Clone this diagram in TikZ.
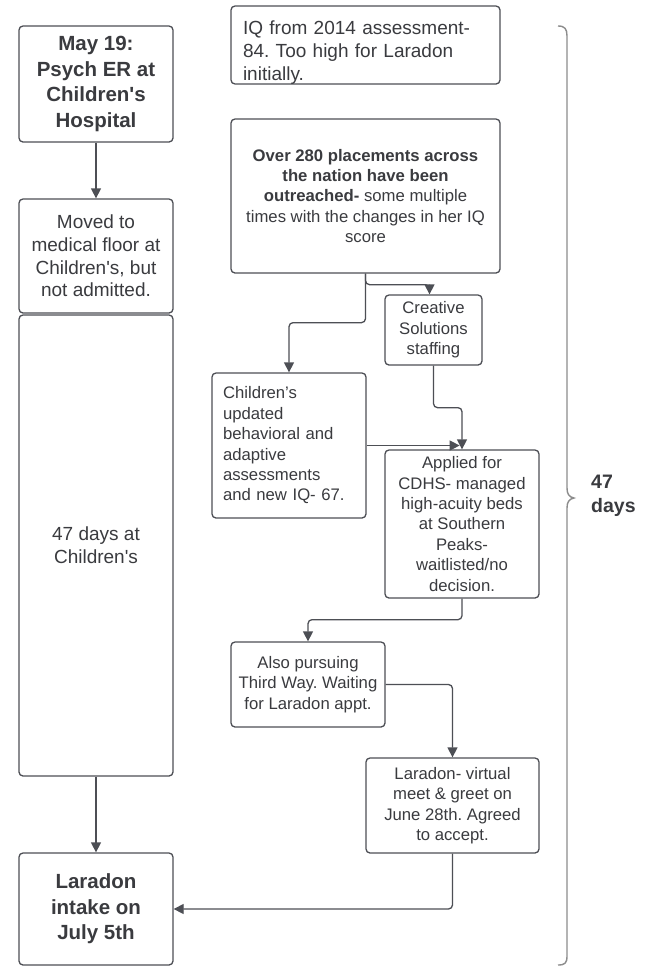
\documentclass[tikz,border=0pt]{standalone}
\usepackage{fontspec}
\setmainfont{Liberation Sans}
\usetikzlibrary{arrows.meta}
\definecolor{linec}{HTML}{4D4F55}
\definecolor{textc}{HTML}{3A3B3F}
\definecolor{bracec}{HTML}{8C8C8C}
\newcommand{\fbig}{\fontsize{19}{22.6}\selectfont}
\newcommand{\fbold}{\fontsize{20.5}{25.5}\selectfont\bfseries}
\newcommand{\fsmall}{\fontsize{16.7}{20.4}\selectfont}
\frenchspacing
\tikzset{
  box/.style={draw=linec, line width=1.3pt, rounded corners=4pt, fill=white,
    text=textc, inner sep=0pt, anchor=center},
  arr/.style={draw=linec, line width=1.3pt, rounded corners=4pt,
    -{Triangle[length=10pt,width=10pt]}},
}
\begin{document}
\begin{tikzpicture}[x=1pt,y=-1pt]
\useasboundingbox[fill=white] (0,0) rectangle (648,967);

% left column
\node[box, minimum width=154, minimum height=116, align=center, font=\fbold]
  (may) at (96,84) {May 19:\\Psych ER at\\Children\textquotesingle s\\Hospital};
\node[box, minimum width=154, minimum height=114, align=center, font=\fbig]
  (moved) at (96,256) {Moved to\\medical floor at\\Children\textquotesingle s, but\\not admitted.};
\node[box, minimum width=154, minimum height=461, align=center, font=\fbig]
  (days) at (96,545.5) {47 days at\\Children\textquotesingle s};
\node[box, minimum width=154, minimum height=112, align=center, font=\fbold]
  (intake) at (96,909) {Laradon\\intake on\\July 5th};

% right column
\node[box, minimum width=269, minimum height=78, align=left, font=\fbig,
  text width=245]
  (iq) at (365.5,45) {\raisebox{-12pt}[0pt][0pt]{\parbox{245pt}{IQ from 2014 assessment-\\84. Too high for Laradon\\initially.}}};
\node[box, minimum width=269, minimum height=154, align=center, font=\fsmall]
  (over) at (365.5,196) {\textbf{Over 280 placements across}\\\textbf{the nation have been}\\\textbf{outreached-} some multiple\\times with the changes in her IQ\\score};
\node[box, minimum width=97, minimum height=70, align=center, font=\fsmall]
  (creative) at (433.5,330) {Creative\\Solutions\\staffing};
\node[box, minimum width=154, minimum height=145, align=left, font=\fsmall,
  text width=132]
  (cu) at (289,445.5) {Children’s\\updated\\behavioral and\\adaptive\\assessments\\and new IQ- 67.};
\node[box, minimum width=154, minimum height=148, align=center, font=\fsmall]
  (applied) at (462,524) {Applied for\\CDHS- managed\\high-acuity beds\\at Southern\\Peaks-\\waitlisted/no\\decision.};
\node[box, minimum width=154, minimum height=85, align=center, font=\fsmall]
  (also) at (308,684.5) {Also pursuing\\Third Way. Waiting\\for Laradon appt.};
\node[box, minimum width=173, minimum height=95, align=center, font=\fsmall]
  (virtual) at (452.5,805.5) {Laradon- virtual\\meet \& greet on\\June 28th. Agreed\\to accept.};

% connectors
\draw[arr] (may) -- (moved);
\draw[arr] (days) -- (intake);
\draw[arr] (over.south) -- ++(0,11) -| ([xshift=-4pt]creative.north);
\draw[arr] (over.south) -- ++(0,49) -| (cu.north);
\draw[arr] (creative.south) -- ++(0,42) -| (applied.north);
\draw[arr] (cu.east) -- ++(93,0);
\draw[arr] (applied.south) -- ++(0,21) -| (also.north);
\draw[arr] (also.east) -| (virtual.north);
\draw[arr] (virtual.south) |- (intake.east);

% brace
\draw[bracec, line width=1.4pt] (558,26) .. controls (565,26) and (567,29) .. (567,36)
  -- (567,488) .. controls (567,494) and (569,497) .. (574,498)
  .. controls (569,499) and (567,502) .. (567,508)
  -- (567,956) .. controls (567,963) and (565,965) .. (558,965);
\node[anchor=west, align=left, text=textc, font=\fontsize{19.5}{24}\selectfont\bfseries, inner sep=0pt]
  (lbl) at (591,496) {47\\days};
\end{tikzpicture}
\end{document}
